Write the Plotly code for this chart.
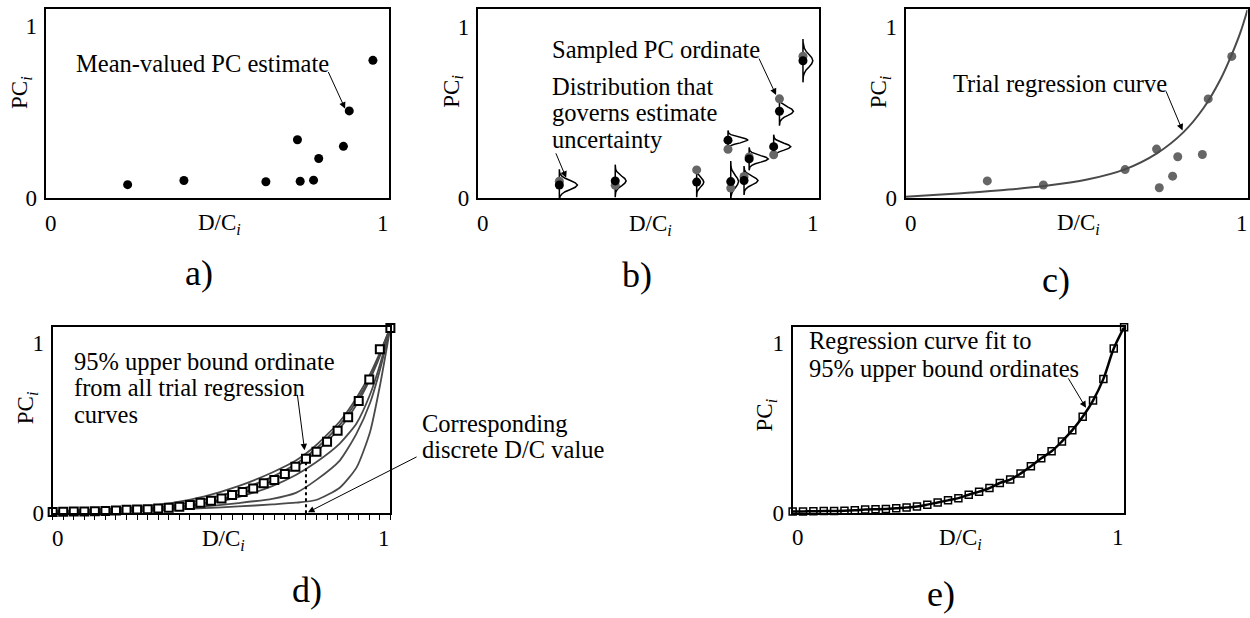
import plotly.graph_objects as go

FONT = "Liberation Serif"
W, H = 1250, 618

# ---------------- data ----------------
# discrete D/C values of the observations
dc = [0.239, 0.403, 0.642, 0.734, 0.742, 0.781, 0.796, 0.868, 0.885, 0.954]
# mean-valued PC estimates
pc_mean = [0.078, 0.102, 0.095, 0.339, 0.098, 0.104, 0.230, 0.301, 0.507, 0.801]
# sampled PC ordinates
pc_sampled = [0.100, 0.076, 0.166, 0.286, 0.060, 0.128, 0.241, 0.254, 0.579, 0.827]
# spread of the distribution that governs each estimate
pc_sigma = [0.026, 0.027, 0.025, 0.016, 0.034, 0.024, 0.019, 0.020, 0.024, 0.036]
pdf_peak = [0.053, 0.032, 0.021, 0.059, 0.023, 0.041, 0.056, 0.050, 0.041, 0.029]
# standard bell profile (z in sigma units, relative density)
pdf_z = [-3.5, -3.0, -2.5, -2.0, -1.5, -1.0, -0.5, 0.0, 0.5, 1.0, 1.5, 2.0, 2.5, 3.0, 3.5]
pdf_w = [0.0, 0.01, 0.04, 0.14, 0.32, 0.61, 0.88, 1.0, 0.88, 0.61, 0.32, 0.14, 0.04, 0.01, 0.0]

# trial regression curve (panel c)
trial_x = [0.0, 0.093, 0.191, 0.288, 0.405, 0.531, 0.643, 0.735, 0.813, 0.872, 0.920, 0.952, 0.979, 1.0]
trial_y = [0.007, 0.019, 0.032, 0.047, 0.070, 0.108, 0.169, 0.261, 0.385, 0.527, 0.689, 0.829, 0.966, 1.10]

# family of trial regression curves (panel d)
curves_x = [0.0, 0.2, 0.35, 0.45, 0.55, 0.65, 0.72, 0.78, 0.85, 0.9, 0.94, 0.97, 1.0]
curves_y = [
    [0.012, 0.030, 0.060, 0.100, 0.160, 0.240, 0.310, 0.400, 0.540, 0.680, 0.820, 0.950, 1.094],
    [0.010, 0.022, 0.045, 0.080, 0.135, 0.215, 0.290, 0.380, 0.520, 0.660, 0.800, 0.940, 1.094],
    [0.008, 0.018, 0.035, 0.062, 0.110, 0.190, 0.270, 0.360, 0.500, 0.640, 0.790, 0.930, 1.094],
    [0.006, 0.015, 0.030, 0.055, 0.095, 0.160, 0.225, 0.300, 0.410, 0.530, 0.700, 0.880, 1.094],
    [0.004, 0.010, 0.022, 0.040, 0.060, 0.085, 0.120, 0.195, 0.310, 0.470, 0.650, 0.850, 1.094],
    [0.002, 0.008, 0.022, 0.030, 0.040, 0.052, 0.062, 0.078, 0.150, 0.270, 0.480, 0.760, 1.094],
]

# discrete D/C grid and 95% upper bound ordinates
grid_x = [0.0, 0.03125, 0.0625, 0.09375, 0.125, 0.15625, 0.1875, 0.21875, 0.25, 0.28125,
          0.3125, 0.34375, 0.375, 0.40625, 0.4375, 0.46875, 0.5, 0.53125, 0.5625, 0.59375,
          0.625, 0.65625, 0.6875, 0.71875, 0.75, 0.78125, 0.8125, 0.84375, 0.875, 0.90625,
          0.9375, 0.96875, 1.0]
ub = [0.008, 0.009, 0.010, 0.011, 0.012, 0.013, 0.016, 0.020, 0.022, 0.024,
      0.028, 0.032, 0.038, 0.049, 0.062, 0.074, 0.087, 0.107, 0.125, 0.146,
      0.176, 0.196, 0.231, 0.274, 0.321, 0.362, 0.420, 0.486, 0.565, 0.660,
      0.787, 0.965, 1.090]
sel = 24  # index of the highlighted discrete D/C value

x_tick_text = ["0", "1"]
y_tick_vals = [0, 1]
y_tick_text = ["0", "1"]
x_title = "D/C<sub><i>i</i></sub>"
y_title = "PC<sub><i>i</i></sub>"
panel_tags = ["a)", "b)", "c)", "d)", "e)"]

# ---------------- layout helpers ----------------
def px(xp, yp):
    return xp / W, 1 - yp / H

# panel boxes in pixels: left, top, right, bottom
boxes = [
    (45.7, 9.0, 389.0, 202.3),
    (478.3, 9.3, 819.3, 202.7),
    (906.3, 9.7, 1248.5, 202.3),
    (52.7, 334.3, 390.7, 524.3),
    (793.3, 334.3, 1125.0, 524.0),
]
yranges = [[0, 1.101], [0, 1.101], [0, 1.101], [0, 1.094], [0, 1.09]]

GRAY = "#666666"
CURVE = "#4a4a4a"

fig = go.Figure()

def ax_ids(i):
    s = "" if i == 0 else str(i + 1)
    return "x" + s, "y" + s

# ---- panel a
xa, ya = ax_ids(0)
fig.add_trace(go.Scatter(x=dc, y=pc_mean, mode="markers", xaxis=xa, yaxis=ya,
                         marker=dict(color="black", size=9)))

# ---- panel b
xb, yb = ax_ids(1)
for xi, yi, s, pk in zip(dc, pc_mean, pc_sigma, pdf_peak):
    gx = [xi + pk * w for w in pdf_w] + [xi]
    gy = [yi + s * z for z in pdf_z] + [yi + s * pdf_z[0]]
    fig.add_trace(go.Scatter(x=gx, y=gy, mode="lines", xaxis=xb, yaxis=yb,
                             line=dict(color="black", width=1.5), cliponaxis=True))
fig.add_trace(go.Scatter(x=dc, y=pc_sampled, mode="markers", xaxis=xb, yaxis=yb,
                         marker=dict(color=GRAY, size=9)))
fig.add_trace(go.Scatter(x=dc, y=pc_mean, mode="markers", xaxis=xb, yaxis=yb,
                         marker=dict(color="black", size=9)))

# ---- panel c
xc, yc = ax_ids(2)
fig.add_trace(go.Scatter(x=dc, y=pc_sampled, mode="markers", xaxis=xc, yaxis=yc,
                         marker=dict(color=GRAY, size=9)))
fig.add_trace(go.Scatter(x=trial_x, y=trial_y, mode="lines", xaxis=xc, yaxis=yc,
                         line=dict(color=CURVE, width=2, shape="spline")))

# ---- panel d
xd, yd = ax_ids(3)
for cy in curves_y:
    fig.add_trace(go.Scatter(x=curves_x, y=cy, mode="lines", xaxis=xd, yaxis=yd,
                             line=dict(color=CURVE, width=1.8, shape="spline", smoothing=0.6)))
fig.add_trace(go.Scatter(x=[grid_x[sel], grid_x[sel]], y=[0, ub[sel]], mode="lines",
                         xaxis=xd, yaxis=yd, line=dict(color="black", width=2, dash="dot")))
fig.add_trace(go.Scatter(x=grid_x, y=ub, mode="markers", xaxis=xd, yaxis=yd, cliponaxis=False,
                         marker=dict(symbol="square", color="white", size=8,
                                     line=dict(color="black", width=2))))

# ---- panel e
xe, ye = ax_ids(4)
fig.add_trace(go.Scatter(x=grid_x, y=ub, mode="lines", xaxis=xe, yaxis=ye,
                         line=dict(color="black", width=2.5, shape="spline")))
fig.add_trace(go.Scatter(x=grid_x, y=ub, mode="markers", xaxis=xe, yaxis=ye, cliponaxis=False,
                         marker=dict(symbol="square-open", color="black", size=7,
                                     line=dict(color="black", width=1.5))))

# ---------------- axes ----------------
layout = {}
for i, (l, t, r, b) in enumerate(boxes):
    s = "" if i == 0 else str(i + 1)
    xd_ = [l / W, r / W]
    yd_ = [1 - b / H, 1 - t / H]
    xax = dict(domain=xd_, range=[0, 1], showline=True, mirror=True, linewidth=2,
               linecolor="black", showgrid=False, zeroline=False, showticklabels=False,
               ticks="", anchor="y" + s, fixedrange=True)
    if i == 3:
        xax.update(ticks="outside", tickvals=grid_x, ticklen=5, tickwidth=1, tickcolor="black")
    yax = dict(domain=yd_, range=yranges[i], showline=True, mirror=True, linewidth=2,
               linecolor="black", showgrid=False, zeroline=False, ticks="",
               tickvals=y_tick_vals, ticktext=y_tick_text, anchor="x" + s,
               tickfont=dict(family=FONT, size=23, color="black"), ticklabelstandoff=2,
               fixedrange=True)
    layout["xaxis" + s] = xax
    layout["yaxis" + s] = yax

annotations = []

def text(xp, yp, s, size=24.5, anchor="left", angle=0):
    x, y = px(xp, yp)
    annotations.append(dict(x=x, y=y, xref="paper", yref="paper", text=s, showarrow=False,
                            xanchor=anchor, yanchor="middle", textangle=angle,
                            font=dict(family=FONT, size=size, color="black")))

def arrow(i, tip, tail):
    xr, yr = ax_ids(i)
    annotations.append(dict(x=tip[0], y=tip[1], ax=tail[0], ay=tail[1], xref=xr, yref=yr,
                            axref=xr, ayref=yr, text="", showarrow=True, arrowhead=2,
                            arrowsize=1.3, arrowwidth=1, arrowcolor="black", standoff=0))

# tick labels on x, axis titles, panel tags
ytitle_pos = [(21, 94), (453, 93), (881, 94), (27, 416), (767, 424)]
tag_pos = [(199, 279), (638, 281), (1057, 286), (307, 603), (942, 607)]
for i, (l, t, r, b) in enumerate(boxes):
    xr, yr = ax_ids(i)
    annotations.append(dict(x=0, y=0, xref=xr, yref=yr, text=x_tick_text[0], showarrow=False,
                            xshift=5, yshift=-25, xanchor="center", yanchor="middle",
                            font=dict(family=FONT, size=23, color="black")))
    annotations.append(dict(x=1, y=0, xref=xr, yref=yr, text=x_tick_text[1], showarrow=False,
                            xshift=-6, yshift=-25, xanchor="center", yanchor="middle",
                            font=dict(family=FONT, size=23, color="black")))
    text((l + r) / 2 + 2, b + 27, x_title, size=23, anchor="center")
    text(ytitle_pos[i][0], ytitle_pos[i][1], y_title, size=23, anchor="center", angle=-90)
    text(tag_pos[i][0], tag_pos[i][1], panel_tags[i], size=36, anchor="center")

# panel a callout
text(74, 64.5, "Mean-valued PC estimate")
arrow(0, (0.873, 0.52), (0.822, 0.742))
# panel b callouts
text(550, 51, "Sampled PC ordinate")
arrow(1, (0.875, 0.602), (0.823, 0.822))
text(550, 88, "Distribution that")
text(550, 114.5, "governs estimate")
text(550, 142.5, "uncertainty")
arrow(1, (0.259, 0.120), (0.227, 0.271))
# panel c callout
text(951.7, 85, "Trial regression curve")
arrow(2, (0.810, 0.394), (0.760, 0.632))
# panel d callouts
text(71.7, 369.5, "95% upper bound ordinate")
text(71.7, 396, "from all trial regression")
text(71.7, 423, "curves")
arrow(3, (0.746, 0.370), (0.724, 0.706))
text(420, 433, "Corresponding")
text(420, 459, "discrete D/C value")
arrow(3, (0.756, 0.006), (1.082, 0.336))
# panel e callout
text(807.7, 348, "Regression curve fit to")
text(807.7, 376, "95% upper bound ordinates")
arrow(4, (0.885, 0.617), (0.829, 0.799))

fig.update_layout(width=W, height=H, margin=dict(l=0, r=0, t=0, b=0),
                  paper_bgcolor="white", plot_bgcolor="white", showlegend=False,
                  annotations=annotations, font=dict(family=FONT, color="black"),
                  **layout)

fig.write_html("out.html", config={"displayModeBar": False, "staticPlot": True},
               post_script="document.body.style.margin='0px';"
                           "document.body.style.overflow='hidden';")
